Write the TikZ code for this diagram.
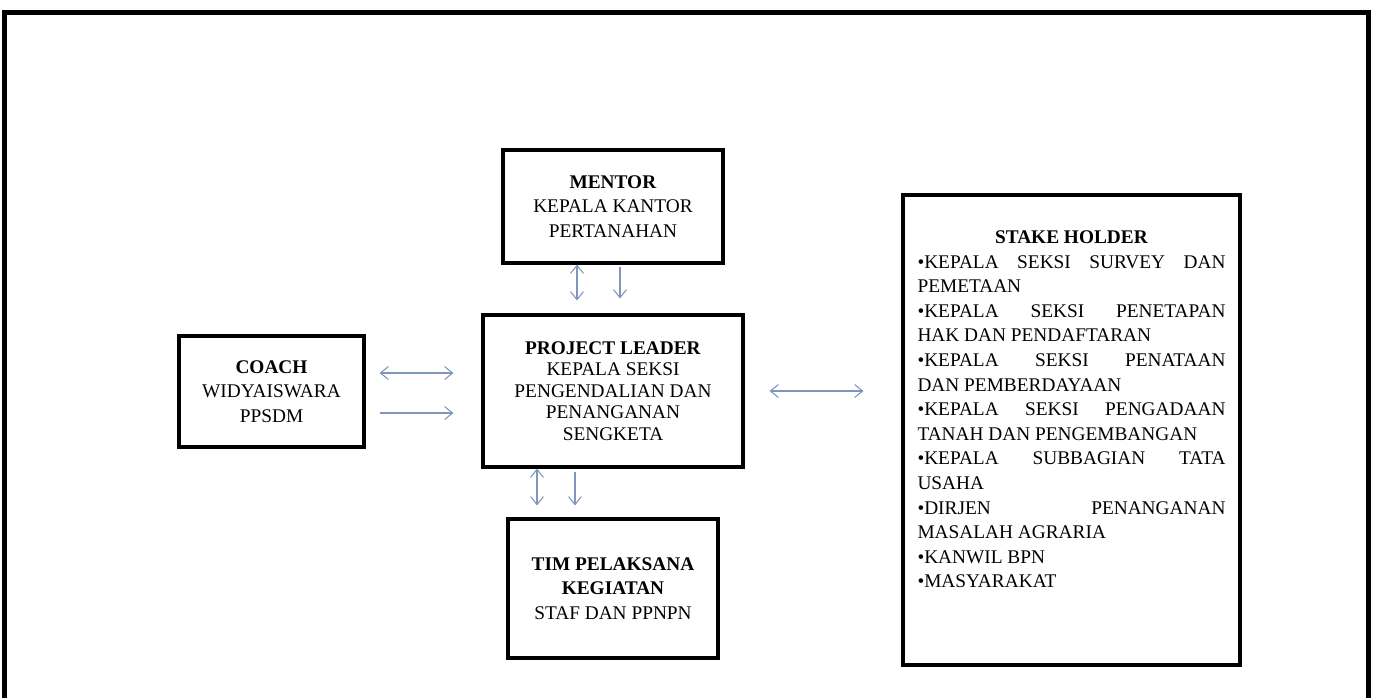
\documentclass[tikz,border=0pt]{standalone}
\usepackage{fontspec}
\setmainfont{Liberation Serif}
\usetikzlibrary{positioning, arrows.meta}
\definecolor{arrowblue}{RGB}{125,150,185}
\tolerance=10000
\hbadness=10000

\begin{document}
\begin{tikzpicture}[
    box/.style={draw, line width=1.8pt, align=center, font=\fontsize{11}{14}\selectfont},
    link/.style={draw=arrowblue, line width=0.6pt, -{Straight Barb[length=0.16cm, width=0.26cm]}},
    twoway/.style={draw=arrowblue, line width=0.6pt, {Straight Barb[length=0.16cm, width=0.26cm]}-{Straight Barb[length=0.16cm, width=0.26cm]}}
]
    \useasboundingbox (0, 0) rectangle (27.48, 13.96);

    % outer frame, open at the bottom
    \draw[line width=2.3pt] (0.09, 0) -- (0.09, 13.71) -- (27.37, 13.71) -- (27.37, 0);

    \node[box, minimum width=5.2cm, minimum height=3.04cm, font=\fontsize{11}{12.3}\selectfont] (leader) at (12.26, 6.14)
        {\textbf{PROJECT LEADER}\\KEPALA SEKSI\\PENGENDALIAN DAN\\PENANGANAN\\SENGKETA};
    \node[box, minimum width=4.4cm, minimum height=2.26cm] (mentor) at (12.26, 9.83)
        {\textbf{MENTOR}\\KEPALA KANTOR\\PERTANAHAN};
    \node[box, minimum width=3.7cm, minimum height=2.22cm] (coach) at (5.43, 6.13)
        {\textbf{COACH}\\WIDYAISWARA\\PPSDM};
    \node[box, minimum width=4.2cm, minimum height=2.78cm] (team) at (12.26, 2.19)
        {\textbf{TIM PELAKSANA}\\\textbf{KEGIATAN}\\STAF DAN PPNPN};
    \node[box, minimum width=6.74cm, minimum height=9.4cm] (stake) at (21.43, 5.36) {};
    \node[below=0.74cm of stake.north, inner sep=0pt, text width=6.16cm, align=justify, font=\fontsize{11}{14}\selectfont] (stakelist) {%
        {\centering\textbf{STAKE HOLDER}\par}
        •KEPALA SEKSI SURVEY DAN\linebreak PEMETAAN\par
        •KEPALA SEKSI PENETAPAN\linebreak HAK DAN PENDAFTARAN\par
        •KEPALA SEKSI PENATAAN\linebreak DAN PEMBERDAYAAN\par
        •KEPALA SEKSI PENGADAAN\linebreak TANAH DAN PENGEMBANGAN\par
        •KEPALA SUBBAGIAN TATA\linebreak USAHA\par
        •DIRJEN PENANGANAN\linebreak MASALAH AGRARIA\par
        •KANWIL BPN\par
        •MASYARAKAT};

    % coach -- leader
    \draw[twoway, shorten <=0.28cm, shorten >=0.56cm] ([yshift=0.37cm]coach.east) -- ([yshift=0.37cm]coach.east -| leader.west);
    \draw[link, shorten <=0.28cm, shorten >=0.56cm] ([yshift=-0.43cm]coach.east) -- ([yshift=-0.43cm]coach.east -| leader.west);

    % mentor -- leader
    \draw[twoway, shorten >=0.26cm] ([xshift=-0.72cm]mentor.south) -- ([xshift=-0.72cm]mentor.south |- leader.north);
    \draw[link, shorten <=0.04cm, shorten >=0.3cm] ([xshift=0.14cm]mentor.south) -- ([xshift=0.14cm]mentor.south |- leader.north);

    % leader -- team
    \draw[twoway, shorten >=0.24cm] ([xshift=-1.52cm]leader.south) -- ([xshift=-1.52cm]leader.south |- team.north);
    \draw[link, shorten <=0.06cm, shorten >=0.24cm] ([xshift=-0.76cm]leader.south) -- ([xshift=-0.76cm]leader.south |- team.north);

    % leader -- stake holder
    \draw[twoway, shorten <=0.5cm, shorten >=0.76cm] (leader.east) -- (leader.east -| stake.west);
\end{tikzpicture}
\end{document}
